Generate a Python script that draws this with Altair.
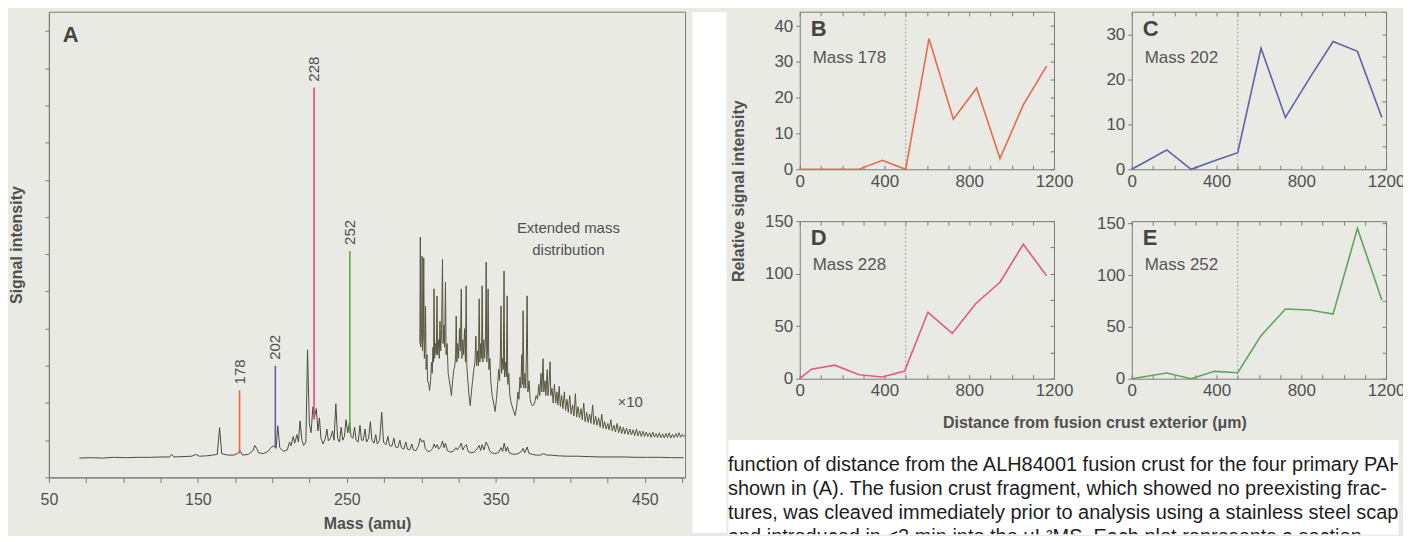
import altair as alt
import pandas as pd

FONT = "Liberation Sans"
CAPTION_FONT = "Liberation Sans Narrow, Liberation Sans, Arial"
BG = "#eaeae5"
INK = "#505050"
FRAME = "#7a7a7a"

# ---------------- Panel A : mass spectrum ----------------
main_trace = [
    (70.5, 0.52), (78, 0.53), (86, 0.52), (94, 0.54), (102, 0.53), (110, 0.54), (118, 0.54),
    (126, 0.55), (131, 0.55), (132.5, 0.62), (134, 0.55), (140, 0.56), (146, 0.57), (148.5, 0.62),
    (151, 0.57), (156, 0.58), (160, 0.6), (163, 0.62), (164.6, 1.34), (166, 0.64), (170, 0.6),
    (174, 0.6), (176.5, 0.64), (178.2, 0.72), (180, 0.6), (184, 0.62), (187, 0.72), (188.2, 0.86),
    (189.5, 0.78), (190.8, 0.66), (194, 0.64), (197, 0.7), (199, 0.8), (201, 0.85), (202.5, 0.78),
    (203.6, 1.39), (205, 0.8), (207.5, 0.7), (210, 0.74), (211.5, 0.95), (212.5, 0.85), (214, 1.1),
    (215, 0.92), (216.5, 1.15), (217.5, 0.95), (218.6, 1.52), (219.8, 1.0), (221, 0.86), (222.5, 0.95),
    (223.6, 3.43), (224.8, 1.45), (226, 1.2), (227.2, 1.9), (228.2, 1.6), (229.5, 1.85), (230.6, 1.25),
    (231.6, 1.6), (232.6, 1.05), (234, 0.9), (235.6, 1.05), (236.6, 1.3), (237.6, 0.98), (239, 1.05),
    (240.4, 1.25), (241.4, 1.0), (242.6, 1.98), (243.8, 1.05), (245, 0.95), (246.2, 1.35), (247.2, 1.0),
    (248.4, 1.1), (249.4, 1.55), (250.6, 1.2), (251.8, 1.5), (252.8, 1.1), (254, 1.05), (255.2, 1.35),
    (256.2, 1.0), (257.6, 0.95), (258.8, 1.4), (259.8, 1.0), (261, 1.0), (262.2, 1.3), (263.2, 0.95),
    (264.6, 1.05), (265.8, 1.5), (266.8, 1.0), (268.2, 0.92), (269.4, 1.15), (270.4, 0.9), (272.0, 1.0),
    (273.4, 1.75), (274.6, 0.95), (276.2, 0.88), (277.6, 1.1), (278.6, 0.86), (280.2, 0.84), (281.6, 1.05),
    (282.6, 0.82), (284.2, 0.8), (285.6, 1.0), (286.6, 0.8), (288.2, 0.76), (289.6, 0.95), (290.6, 0.76),
    (292.2, 0.74), (293.6, 0.9), (294.6, 0.74), (296.4, 0.72), (298.0, 0.84), (299.2, 1.05), (300.4, 0.95),
    (301.6, 1.0), (302.6, 0.78), (304.2, 0.7), (305.8, 0.7), (307.6, 0.78), (308.6, 0.9), (309.6, 0.8),
    (310.6, 0.88), (311.6, 0.76), (313.2, 0.84), (314.2, 0.98), (315.2, 0.8), (316.2, 0.92), (317.4, 0.72),
    (319.4, 0.68), (321.4, 0.7), (323.2, 0.8), (324.2, 0.74), (325.6, 0.82), (326.8, 0.92), (327.8, 0.74),
    (329.2, 0.84), (330.2, 0.88), (331.4, 0.7), (333.4, 0.66), (335.4, 0.68), (337.2, 0.76), (338.8, 0.86),
    (339.8, 0.72), (340.8, 0.88), (342.0, 0.74), (343.5, 0.95), (344.8, 0.84), (346.0, 0.7), (348.0, 0.65),
    (350.0, 0.64), (352.0, 0.68), (353.5, 0.8), (354.6, 0.7), (355.6, 0.92), (356.8, 0.7), (357.8, 0.82),
    (359.0, 0.66), (361.0, 0.63), (363.0, 0.62), (365.0, 0.64), (367.2, 0.7), (368.3, 0.78), (369.4, 0.66),
    (371.0, 0.82), (372.2, 0.65), (374.5, 0.62), (377.0, 0.6), (380.0, 0.6), (382.0, 0.64), (384.0, 0.6),
    (387.0, 0.6), (392.0, 0.58), (398.0, 0.57), (405.0, 0.57), (412.0, 0.56), (420.0, 0.55), (428.0, 0.55),
    (436.0, 0.55), (444.0, 0.54), (452.0, 0.54), (460.0, 0.54), (468.0, 0.53), (476.0, 0.53),
]

ext_trace = [
    (299.0, 3.6), (299.3, 6.46), (299.6, 3.5), (300.2, 4.0), (300.5, 5.95), (300.8, 3.4), (301.3, 3.8),
    (301.6, 5.9), (302.0, 3.2), (302.5, 3.6), (302.8, 4.6), (303.2, 2.9), (303.8, 3.3), (304.2, 2.6),
    (305.0, 2.5), (305.5, 2.33), (306.2, 2.6), (306.8, 3.1), (307.3, 2.8), (307.8, 3.5), (308.2, 3.1),
    (308.5, 5.07), (308.9, 3.2), (309.5, 3.6), (310.0, 3.3), (310.5, 4.88), (310.9, 3.3), (311.5, 3.7),
    (312.0, 3.2), (312.5, 4.2), (313.0, 3.4), (313.6, 4.0), (314.2, 5.87), (314.6, 3.6), (315.2, 4.1),
    (315.6, 3.5), (316.2, 5.25), (316.6, 3.3), (317.3, 3.6), (318.0, 2.8), (318.8, 2.6), (319.5, 2.4),
    (320.2, 2.2), (321.0, 2.6), (321.8, 2.9), (322.5, 3.0), (323.0, 3.3), (323.4, 4.34), (323.8, 3.1),
    (324.5, 3.6), (325.0, 3.2), (325.6, 4.0), (326.2, 3.4), (326.8, 5.07), (327.2, 3.2), (327.8, 3.7),
    (328.4, 3.3), (329.0, 4.0), (329.6, 3.1), (330.1, 5.15), (330.5, 3.0), (331.2, 2.6), (332.0, 2.2),
    (332.8, 1.93), (333.6, 2.3), (334.4, 2.6), (335.2, 2.9), (336.0, 3.1), (336.6, 3.8), (337.1, 3.0),
    (337.8, 3.4), (338.3, 3.0), (338.8, 4.8), (339.3, 3.1), (339.9, 3.6), (340.4, 3.2), (340.8, 5.15),
    (341.3, 3.1), (341.9, 3.7), (342.5, 3.2), (343.1, 3.8), (343.5, 5.79), (343.9, 3.1), (344.4, 3.4),
    (344.8, 5.07), (345.3, 2.9), (346.0, 3.2), (346.6, 2.6), (347.5, 2.2), (348.5, 2.0), (349.5, 1.77),
    (350.4, 2.1), (351.2, 2.5), (351.9, 2.9), (352.5, 2.6), (353.0, 3.3), (353.5, 4.61), (353.9, 2.8),
    (354.5, 3.2), (355.0, 2.9), (355.5, 5.55), (355.9, 2.7), (356.6, 3.1), (357.1, 2.7), (357.6, 4.88),
    (358.0, 2.5), (358.7, 2.8), (359.4, 2.2), (360.3, 2.0), (361.4, 1.85), (362.9, 1.66), (364.0, 1.9),
    (364.8, 2.3), (365.5, 2.1), (366.2, 2.7), (366.8, 2.4), (367.4, 3.3), (367.9, 2.5), (368.3, 4.48),
    (368.8, 2.4), (369.5, 2.8), (370.1, 2.4), (370.6, 3.6), (371.0, 4.88), (371.5, 2.3), (372.3, 2.6),
    (373.0, 2.1), (374.0, 1.95), (375.0, 1.93), (376.0, 2.0), (377.0, 2.2), (378.0, 2.1), (378.8, 2.5),
    (379.5, 2.2), (380.3, 2.8), (380.9, 2.3), (381.7, 3.19), (382.2, 2.3), (383.0, 2.6), (383.6, 2.2),
    (384.5, 2.9), (385.0, 2.2), (385.8, 2.6), (386.4, 3.11), (386.9, 2.2), (387.7, 2.4), (388.5, 2.0),
    (389.3, 2.5), (390.2, 2.0), (391.0, 2.3), (391.7, 1.95), (392.5, 2.45), (393.3, 1.9), (394.2, 2.2),
    (395.0, 1.85), (396.0, 2.3), (396.8, 1.8), (397.8, 2.1), (398.6, 1.75), (399.6, 2.2), (400.5, 1.7),
    (401.5, 1.95), (402.4, 1.65), (403.4, 2.25), (404.2, 1.62), (405.2, 1.9), (406.1, 1.6), (407.2, 1.85),
    (408.0, 1.55), (409.0, 2.0), (409.9, 1.5), (411.0, 1.75), (411.9, 1.48), (413.0, 1.7), (413.8, 1.45),
    (415.0, 1.95), (415.8, 1.42), (417.0, 1.65), (417.9, 1.4), (419.0, 1.6), (420.0, 1.35), (421.1, 1.7),
    (422.0, 1.32), (423.0, 1.5), (424.0, 1.3), (425.2, 1.45), (426.0, 1.28), (427.2, 1.55), (428.1, 1.25),
    (429.3, 1.4), (430.3, 1.22), (431.4, 1.45), (432.4, 1.2), (433.5, 1.38), (434.5, 1.18), (435.6, 1.35),
    (436.6, 1.17), (437.8, 1.32), (438.8, 1.15), (440.0, 1.3), (441.0, 1.14), (442.2, 1.28), (443.2, 1.12),
    (444.4, 1.3), (445.4, 1.12), (446.6, 1.25), (447.6, 1.1), (448.8, 1.24), (449.8, 1.1), (451.0, 1.22),
    (452.0, 1.1), (453.2, 1.2), (454.2, 1.08), (455.4, 1.22), (456.4, 1.08), (457.6, 1.18), (458.6, 1.07),
    (459.8, 1.2), (460.8, 1.07), (462.0, 1.17), (463.0, 1.06), (464.2, 1.18), (465.2, 1.07), (466.4, 1.2),
    (467.4, 1.06), (468.6, 1.16), (469.6, 1.07), (470.8, 1.18), (471.8, 1.08), (473.0, 1.2), (474.0, 1.08),
    (475.2, 1.16), (476.2, 1.1), (477.0, 1.13),
]

peak_labels = ["178", "202", "228", "252"]
peak_mass = [178, 202, 228, 252]
peak_top = [2.34, 3.0, 10.48, 6.09]
peak_base = [0.64, 0.82, 1.55, 1.2]
peak_colors = ["#e8633f", "#5b61b0", "#e2478c", "#5fa84a"]

# ---------------- Panels B-E : depth profiles ----------------
crust_boundary = [500]
B_dist = [0, 280, 390, 500, 610, 725, 835, 945, 1055, 1165]
B_val = [0, 0, 2.5, 0, 36.5, 14, 22.7, 3, 18, 28.8]
C_dist = [0, 165, 280, 390, 500, 610, 725, 840, 950, 1065, 1180]
C_val = [0, 4.3, 0, 1.9, 3.7, 26.9, 11.5, 20.3, 28.4, 26.2, 11.5]
D_dist = [0, 55, 165, 280, 390, 495, 605, 720, 830, 945, 1055, 1165]
D_val = [0, 9.1, 12.9, 3.8, 1.6, 7.2, 63.2, 43.1, 71.4, 91.8, 128, 98]
E_dist = [0, 165, 280, 390, 500, 610, 725, 840, 950, 1065, 1180]
E_val = [0, 5.5, 0, 7.1, 5.8, 41.5, 67.2, 66.2, 62.3, 145, 76]

caption_lines = [
    "function of distance from the ALH84001 fusion crust for the four primary PAHs",
    "shown in (A). The fusion crust fragment, which showed no preexisting frac-",
    "tures, was cleaved immediately prior to analysis using a stainless steel scapel",
    "and introduced in <2 min into the \u03bcL\u00b2MS. Each plot represents a section",
]

# ================= build panel A =================
A_W, A_H = 638, 467
xA = alt.Scale(domain=[50, 477], nice=False, zero=False)
yA = alt.Scale(domain=[0, 12.52], nice=False, zero=False)

main_df = pd.DataFrame(main_trace, columns=["mass", "intensity"])
ext_df = pd.DataFrame(ext_trace, columns=["mass", "intensity"])
peaks_df = pd.DataFrame({"label": peak_labels, "mass": peak_mass, "top": peak_top, "base": peak_base})
one = pd.DataFrame({"k": [0]})

x_axis_A = alt.Axis(
    values=list(range(50, 476, 25)), labelExpr="datum.value % 100 == 50 ? datum.label : ''",
    format="d", tickSize=5, labelFontSize=16, labelPadding=9, labelOverlap=False, labelFlush=False,
    title="Mass (amu)", titleFontSize=16, titleFontWeight="bold", titlePadding=8, grid=False,
    domainColor=FRAME, tickColor=FRAME, labelColor=INK, titleColor=INK,
)
y_axis_A = alt.Axis(
    values=list(range(0, 13)), labels=False, tickSize=4, title="Signal intensity",
    titleFontSize=16, titleFontWeight="bold", titlePadding=20, grid=False,
    domainColor=FRAME, tickColor=FRAME, titleColor=INK,
)


def xa(field):
    return alt.X(field, scale=xA, axis=x_axis_A)


def ya(field):
    return alt.Y(field, scale=yA, axis=y_axis_A)


main_line = alt.Chart(main_df).mark_line(color="#4b4b3c", strokeWidth=1).encode(
    x=xa("mass:Q"), y=ya("intensity:Q")
)
ext_line = alt.Chart(ext_df).mark_line(color="#55553f", strokeWidth=1).encode(
    x=xa("mass:Q"), y=ya("intensity:Q")
)
peak_rules = alt.Chart(peaks_df).mark_rule(strokeWidth=1.6).encode(
    x=xa("mass:Q"), y=ya("top:Q"), y2="base:Q",
    color=alt.Color("label:N", scale=alt.Scale(domain=peak_labels, range=peak_colors), legend=None),
)
peak_text = alt.Chart(peaks_df).mark_text(
    angle=270, align="left", baseline="middle", dx=6, fontSize=15, color=INK
).encode(x=xa("mass:Q"), y=ya("top:Q"), text="label:N")

label_A = alt.Chart(one).mark_text(
    text="A", fontSize=22, fontWeight="bold", align="left", baseline="alphabetic", color="#444"
).encode(x=alt.value(14), y=alt.value(30))
label_ext = alt.Chart(one).mark_text(
    text=["Extended mass", "distribution"], fontSize=15, align="center", baseline="alphabetic",
    lineHeight=22, color=INK,
).encode(x=alt.value(521), y=alt.value(222))
label_x10 = alt.Chart(one).mark_text(
    text="\u00d710", fontSize=15, align="center", baseline="alphabetic", color=INK
).encode(x=alt.value(583), y=alt.value(396))

panel_A = alt.layer(main_line, ext_line, peak_rules, peak_text, label_A, label_ext, label_x10).properties(
    width=A_W, height=A_H
)

# ================= build panels B-E =================
P_W, P_H = 255, 158


def small_panel(dist, vals, color, letter, mass_text, ymax, ylabels, ystep, mass_y):
    df = pd.DataFrame({"d": dist, "v": vals})
    xs = alt.Scale(domain=[0, 1200], nice=False, zero=False)
    ys = alt.Scale(domain=[0, ymax], nice=False, zero=False)
    ticks100 = list(range(0, 1201, 100))
    minor = list(range(0, int(ymax) + 1, ystep))
    bottom = alt.Axis(orient="bottom", offset=-4, values=ticks100, format="d",
                      labelExpr="datum.value % 400 == 0 ? datum.label : ''", labelOverlap=False,
                      labelFlush=False, tickSize=4, domain=False, grid=False, labelFontSize=17,
                      labelPadding=4, labelColor=INK, tickColor=FRAME, title=None)
    left = alt.Axis(orient="left", values=ylabels, tickSize=4, domain=False, grid=False,
                    labelFontSize=17, labelPadding=3, labelColor=INK, tickColor=FRAME, title=None)
    top = alt.Axis(orient="top", offset=-4, values=ticks100, labels=False, tickSize=4,
                   domain=False, grid=False, title=None, tickColor=FRAME)
    right = alt.Axis(orient="right", offset=-4, values=minor, labels=False, tickSize=4,
                     domain=False, grid=False, title=None, tickColor=FRAME)

    rule = alt.Chart(pd.DataFrame({"d": crust_boundary})).mark_rule(
        color="#8a8a8a", strokeDash=[1.5, 2.5], strokeWidth=1
    ).encode(x=alt.X("d:Q", scale=xs, axis=None))
    line = alt.Chart(df).mark_line(color=color, strokeWidth=1.6).encode(
        x=alt.X("d:Q", scale=xs, axis=bottom), y=alt.Y("v:Q", scale=ys, axis=left)
    )
    ghost = alt.Chart(df).mark_point(opacity=0).encode(
        x=alt.X("d:Q", scale=xs, axis=top), y=alt.Y("v:Q", scale=ys, axis=right)
    )
    let = alt.Chart(one).mark_text(
        text=letter, fontSize=22, fontWeight="bold", align="left", baseline="alphabetic", color="#444"
    ).encode(x=alt.value(11), y=alt.value(24))
    mass = alt.Chart(one).mark_text(
        text=mass_text, fontSize=17, align="left", baseline="alphabetic", color="#555"
    ).encode(x=alt.value(13), y=alt.value(mass_y))
    return alt.layer(rule, line, ghost, let, mass).resolve_axis(
        x="independent", y="independent"
    ).properties(width=P_W, height=P_H)


panel_B = small_panel(B_dist, B_val, "#e8694d", "B", "Mass 178", 44, [0, 10, 20, 30, 40], 5, 51)
panel_C = small_panel(C_dist, C_val, "#5d63a6", "C", "Mass 202", 35, [0, 10, 20, 30], 5, 51)
panel_D = small_panel(D_dist, D_val, "#de5a8c", "D", "Mass 228", 150, [0, 50, 100, 150], 25, 49)
panel_E = small_panel(E_dist, E_val, "#5fa35c", "E", "Mass 252", 152, [0, 50, 100, 150], 25, 49)

grid = alt.concat(panel_B, panel_C, panel_D, panel_E, columns=2, spacing={"row": 21, "column": 22})

xtitle = alt.Chart(one, view=alt.ViewBackground(stroke="transparent")).mark_text(
    text="Distance from fusion crust exterior (\u03bcm)", fontSize=16, fontWeight="bold", color=INK,
    align="center", baseline="middle",
).encode(x=alt.value(296), y=alt.value(12)).properties(width=590, height=24)

ytitle = alt.Chart(one, view=alt.ViewBackground(stroke="transparent")).mark_text(
    text="Relative signal intensity", angle=270, fontSize=16, fontWeight="bold", color=INK,
    align="center", baseline="middle",
).encode(x=alt.value(11), y=alt.value(180)).properties(width=22, height=362)

# ================= caption =================
CAP_W, CAP_H = 672, 95
cap_df = pd.DataFrame({"line": list(range(len(caption_lines))), "text": caption_lines})
caption = alt.Chart(cap_df, view=alt.ViewBackground(fill="white", stroke="transparent")).mark_text(
    align="left", baseline="middle", fontSize=20, font=CAPTION_FONT, color="#1d1d1d", clip=True
).encode(
    x=alt.value(0),
    y=alt.Y("line:Q", scale=alt.Scale(domain=[-26 / 24, (CAP_H - 26) / 24], reverse=True,
                                      nice=False, zero=False), axis=None),
    text="text:N",
).properties(width=CAP_W, height=CAP_H)

inner = alt.vconcat(grid, xtitle, spacing=10)
right = alt.vconcat(alt.hconcat(ytitle, inner, spacing=13), caption, spacing=3)

spacer = alt.Chart(one, view=alt.ViewBackground(fill="white", stroke="transparent")).mark_point(
    opacity=0
).encode(x=alt.value(0), y=alt.value(0)).properties(width=34, height=522)

chart = alt.hconcat(panel_A, spacer, right, spacing=0).configure(
    background=BG, padding={"left": 0, "top": -1, "right": -3, "bottom": 0}
).configure_view(stroke=FRAME, strokeWidth=1).configure_axis(
    labelFont=FONT, titleFont=FONT
).configure_text(font=FONT)

chart.save("out.html", embed_options={"renderer": "svg", "actions": False})
